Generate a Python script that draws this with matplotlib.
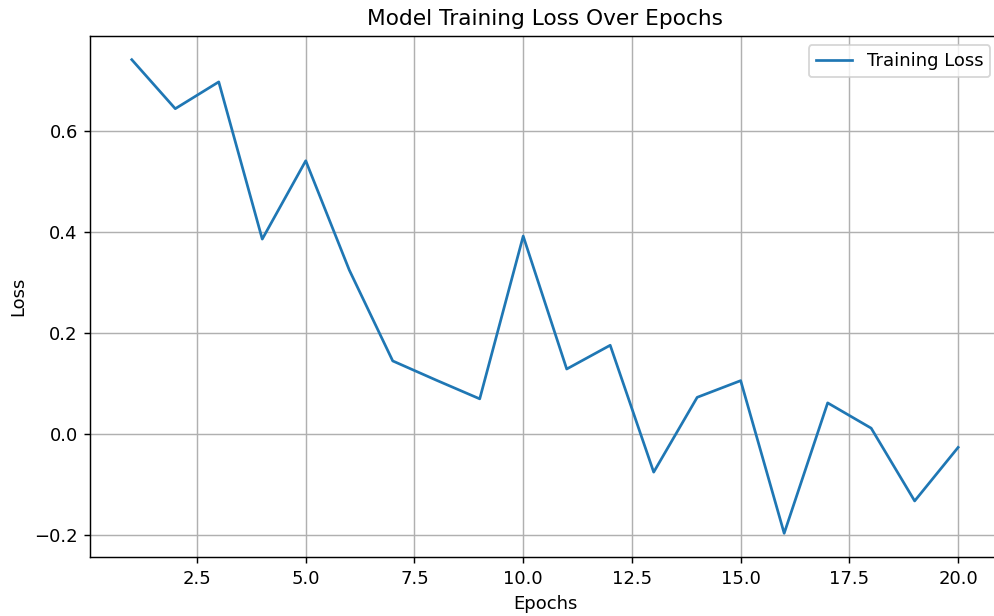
import matplotlib
matplotlib.use("Agg")
import matplotlib.pyplot as plt

epochs = list(range(1, 21))
loss = [0.741, 0.644, 0.697, 0.386, 0.541, 0.325, 0.145, 0.107, 0.070, 0.392,
        0.129, 0.176, -0.075, 0.073, 0.106, -0.196, 0.062, 0.012, -0.132, -0.026]

# picture is a slightly enlarged render, so use a higher dpi
dpi = 130
fig = plt.figure(figsize=(994 / dpi, 616 / dpi), dpi=dpi)
ax = fig.add_axes([0.0910, 0.0958, 0.9145, 0.8458])
ax.plot(epochs, loss, label="Training Loss")
ax.set_title("Model Training Loss Over Epochs")
ax.set_xlabel("Epochs")
ax.set_ylabel("Loss")
ax.grid(True)
ax.legend()

fig.savefig("out.png", dpi=dpi)
